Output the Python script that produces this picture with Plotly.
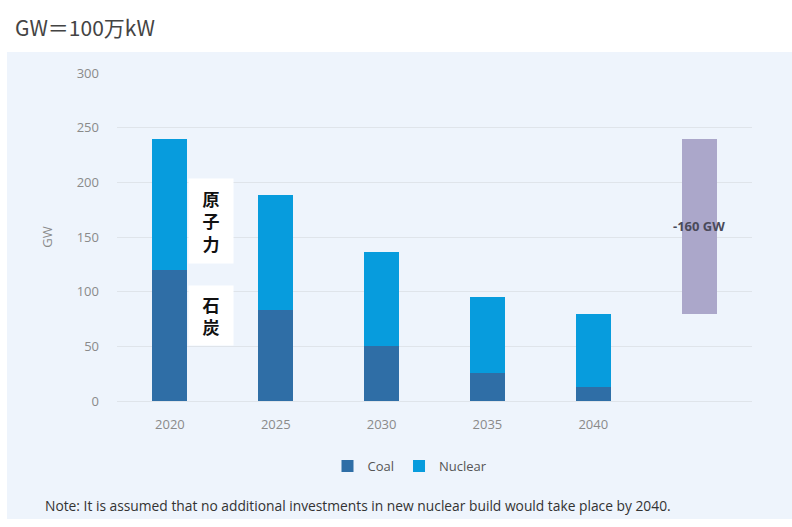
import plotly.graph_objects as go

years = ["2020", "2025", "2030", "2035", "2040"]
coal = [120, 83, 50, 26, 13]
nuclear = [120, 105, 86, 69, 67]
change_label = "-160 GW"
change_base = 80
change_size = 160
change_cat = "2020-2040"

cats = years + [change_cat]

COAL_C = "#2F6EA6"
NUC_C = "#079CDD"
CHG_C = "#ABA7CA"
PANEL = "#EEF4FC"
GRID = "#DFE4EA"
TICK_FONT = "Liberation Sans Narrow, Open Sans, sans-serif"

fig = go.Figure()
fig.add_trace(go.Bar(name="Coal", x=years, y=coal, marker_color=COAL_C,
                     marker_line_width=0))
fig.add_trace(go.Bar(name="Nuclear", x=years, y=nuclear, marker_color=NUC_C,
                     marker_line_width=0))
fig.add_trace(go.Bar(name="change", x=[change_cat], y=[change_size],
                     base=[change_base], marker_color=CHG_C,
                     marker_line_width=0, showlegend=False))

# light panel behind the chart
fig.add_shape(type="rect", xref="paper", yref="paper", layer="below",
              x0=-110 / 635, x1=1.1, y0=(401 - 519) / 328, y1=(401 - 52) / 328,
              fillcolor=PANEL, line_width=0)

fig.add_annotation(x=change_cat, y=change_base + change_size / 2,
                   text="<b>" + change_label + "</b>", showarrow=False,
                   font=dict(family=TICK_FONT, size=13, color="#4A4A5A"))

# Japanese segment labels next to the 2020 bar (category index 0)
first = cats.index("2020")
fig.add_annotation(x=first, y=165, xshift=41, text="<b>原<br>子<br>力</b>",
                   showarrow=False, bgcolor="white", width=42, height=82,
                   font=dict(family="Noto Sans CJK JP", size=17, color="#111111"))
fig.add_annotation(x=first, y=78, xshift=41, text="<b>石<br>炭</b>",
                   showarrow=False, bgcolor="white", width=42, height=57,
                   font=dict(family="Noto Sans CJK JP", size=17, color="#111111"))

fig.add_annotation(xref="paper", yref="paper", x=(13 - 117) / 635,
                   y=(401 - 27) / 328, xanchor="left", yanchor="middle",
                   text="GW＝100万kW", showarrow=False,
                   font=dict(family="Noto Sans CJK JP", size=21, color="#444444"))

fig.add_annotation(xref="paper", yref="paper", x=(43 - 117) / 635,
                   y=(401 - 505) / 328, xanchor="left", yanchor="middle",
                   text="Note: It is assumed that no additional investments in new nuclear build would take place by 2040.",
                   showarrow=False,
                   font=dict(family=TICK_FONT, size=13.8, color="#333333"))

fig.update_layout(
    width=792, height=527,
    margin=dict(l=117, r=40, t=73, b=126),
    paper_bgcolor="white", plot_bgcolor=PANEL,
    barmode="stack", bargap=0.67,
    showlegend=True,
    legend=dict(orientation="h", x=(410 - 117) / 635, xanchor="center",
                y=(401 - 466) / 328, yanchor="middle",
                font=dict(family=TICK_FONT, size=13, color="#555555"),
                itemwidth=30, traceorder="normal", bgcolor="rgba(0,0,0,0)"),
    xaxis=dict(type="category", categoryorder="array", categoryarray=cats,
               range=[-0.5, 5.5],
               tickvals=years, ticktext=years, showgrid=False,
               showline=False, ticks="", ticklabelstandoff=14,
               tickfont=dict(family=TICK_FONT, size=13, color="#8A8A8A")),
    yaxis=dict(range=[0, 300], dtick=50, showgrid=True, gridcolor=GRID,
               gridwidth=1, zeroline=True, zerolinecolor=GRID,
               zerolinewidth=1, showline=False, ticks="",
               ticklabelstandoff=17,
               tickfont=dict(family=TICK_FONT, size=13, color="#8A8A8A"),
               title=dict(text="GW", standoff=21,
                          font=dict(family=TICK_FONT, size=13, color="#8A8A8A"))),
)

fig.write_html("out.html")
